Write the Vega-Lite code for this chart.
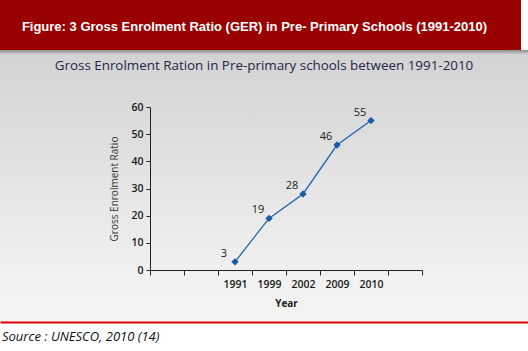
{
  "$schema": "https://vega.github.io/schema/vega-lite/v6.json",
  "padding": 0,
  "background": "#ffffff",
  "spacing": 0,
  "config": {
    "view": {"stroke": null},
    "font": "Open Sans",
    "axis": {
      "domainColor": "#222222",
      "tickColor": "#222222",
      "labelColor": "#1a1a1a",
      "titleColor": "#333333",
      "labelFont": "Open Sans",
      "titleFont": "Open Sans",
      "labelFontSize": 10.5,
      "labelFontWeight": 600,
      "titleFontSize": 10,
      "grid": false
    }
  },
  "vconcat": [
    {
      "width": 521,
      "height": 50,
      "view": {"fill": "#990000", "stroke": null},
      "data": {"values": [{"t": "Figure: 3 Gross Enrolment Ratio (GER) in Pre- Primary Schools (1991-2010)"}]},
      "mark": {"type": "text", "font": "Liberation Sans", "fontWeight": "bold", "fontSize": 13, "color": "#ffffff", "dx": -6, "dy": 2},
      "encoding": {"text": {"field": "t"}}
    },
    {
      "width": 528,
      "height": 52,
      "view": {
        "stroke": null,
        "fill": {
          "gradient": "linear", "x1": 0, "y1": 0, "x2": 0, "y2": 1,
          "stops": [
            {"offset": 0, "color": "#8c8c8c"},
            {"offset": 0.09, "color": "#d3d3d3"},
            {"offset": 1, "color": "#d9d9d9"}
          ]
        }
      },
      "data": {"values": [{"t": "Gross Enrolment Ration in Pre-primary schools between 1991-2010"}]},
      "mark": {"type": "text", "font": "Open Sans", "fontSize": 13.4, "color": "#25254a", "dy": -10},
      "encoding": {"text": {"field": "t"}}
    },
    {
      "width": 528,
      "height": 220,
      "view": {
        "stroke": null,
        "fill": {
          "gradient": "linear", "x1": 0, "y1": 0, "x2": 0, "y2": 1,
          "stops": [
            {"offset": 0, "color": "#d9d9d9"},
            {"offset": 0.8, "color": "#f1f1f1"},
            {"offset": 1, "color": "#f4f4f4"}
          ]
        }
      },
      "data": {
        "values": [
          {"year": "1991", "ger": 3},
          {"year": "1999", "ger": 19},
          {"year": "2002", "ger": 28},
          {"year": "2009", "ger": 46},
          {"year": "2010", "ger": 55}
        ]
      },
      "encoding": {
        "x": {
          "field": "year",
          "type": "nominal",
          "sort": null,
          "bandPosition": 0.5,
          "scale": {"type": "band", "domain": [" ", "  ", "1991", "1999", "2002", "2009", "2010", "   "], "paddingInner": 0, "paddingOuter": 0, "range": [150, 422]},
          "axis": {"offset": -52, "tickBand": "extent", "title": "Year", "titleFontWeight": "bold", "labelAngle": 0, "tickSize": 5, "labelPadding": 4, "titlePadding": 9, "titleColor": "#222222"}
        },
        "y": {
          "field": "ger",
          "type": "quantitative",
          "scale": {"domain": [0, 60], "nice": false, "range": [168, 5]},
          "axis": {"offset": -150, "values": [0, 10, 20, 30, 40, 50, 60], "title": "Gross Enrolment Ratio", "titleFontWeight": "normal", "tickSize": 4, "labelPadding": 3, "titlePadding": 11}
        }
      },
      "layer": [
        {
          "mark": {"type": "line", "color": "#2163b0", "strokeWidth": 1.3, "point": {"filled": true, "shape": "diamond", "size": 55, "color": "#1a5ca8"}}
        },
        {
          "mark": {"type": "text", "fontSize": 11, "color": "#1a1a1a", "dx": -11, "dy": -8, "font": "Open Sans"},
          "encoding": {"text": {"field": "ger", "type": "quantitative"}}
        }
      ]
    },
    {
      "width": 528,
      "height": 29,
      "view": {"fill": "#ffffff", "stroke": null},
      "data": {"values": [{"s": "Source : UNESCO, 2010 (14)"}]},
      "mark": {"type": "text", "align": "left", "fontStyle": "italic", "fontSize": 13, "font": "Open Sans", "color": "#111111", "dx": 2},
      "encoding": {
        "x": {
          "datum": 0,
          "type": "quantitative",
          "scale": {"domain": [0, 1]},
          "axis": {"orient": "top", "domainColor": "#dd0000", "domainWidth": 2, "labels": false, "ticks": false, "grid": false, "title": null}
        },
        "text": {"field": "s"}
      }
    }
  ]
}
